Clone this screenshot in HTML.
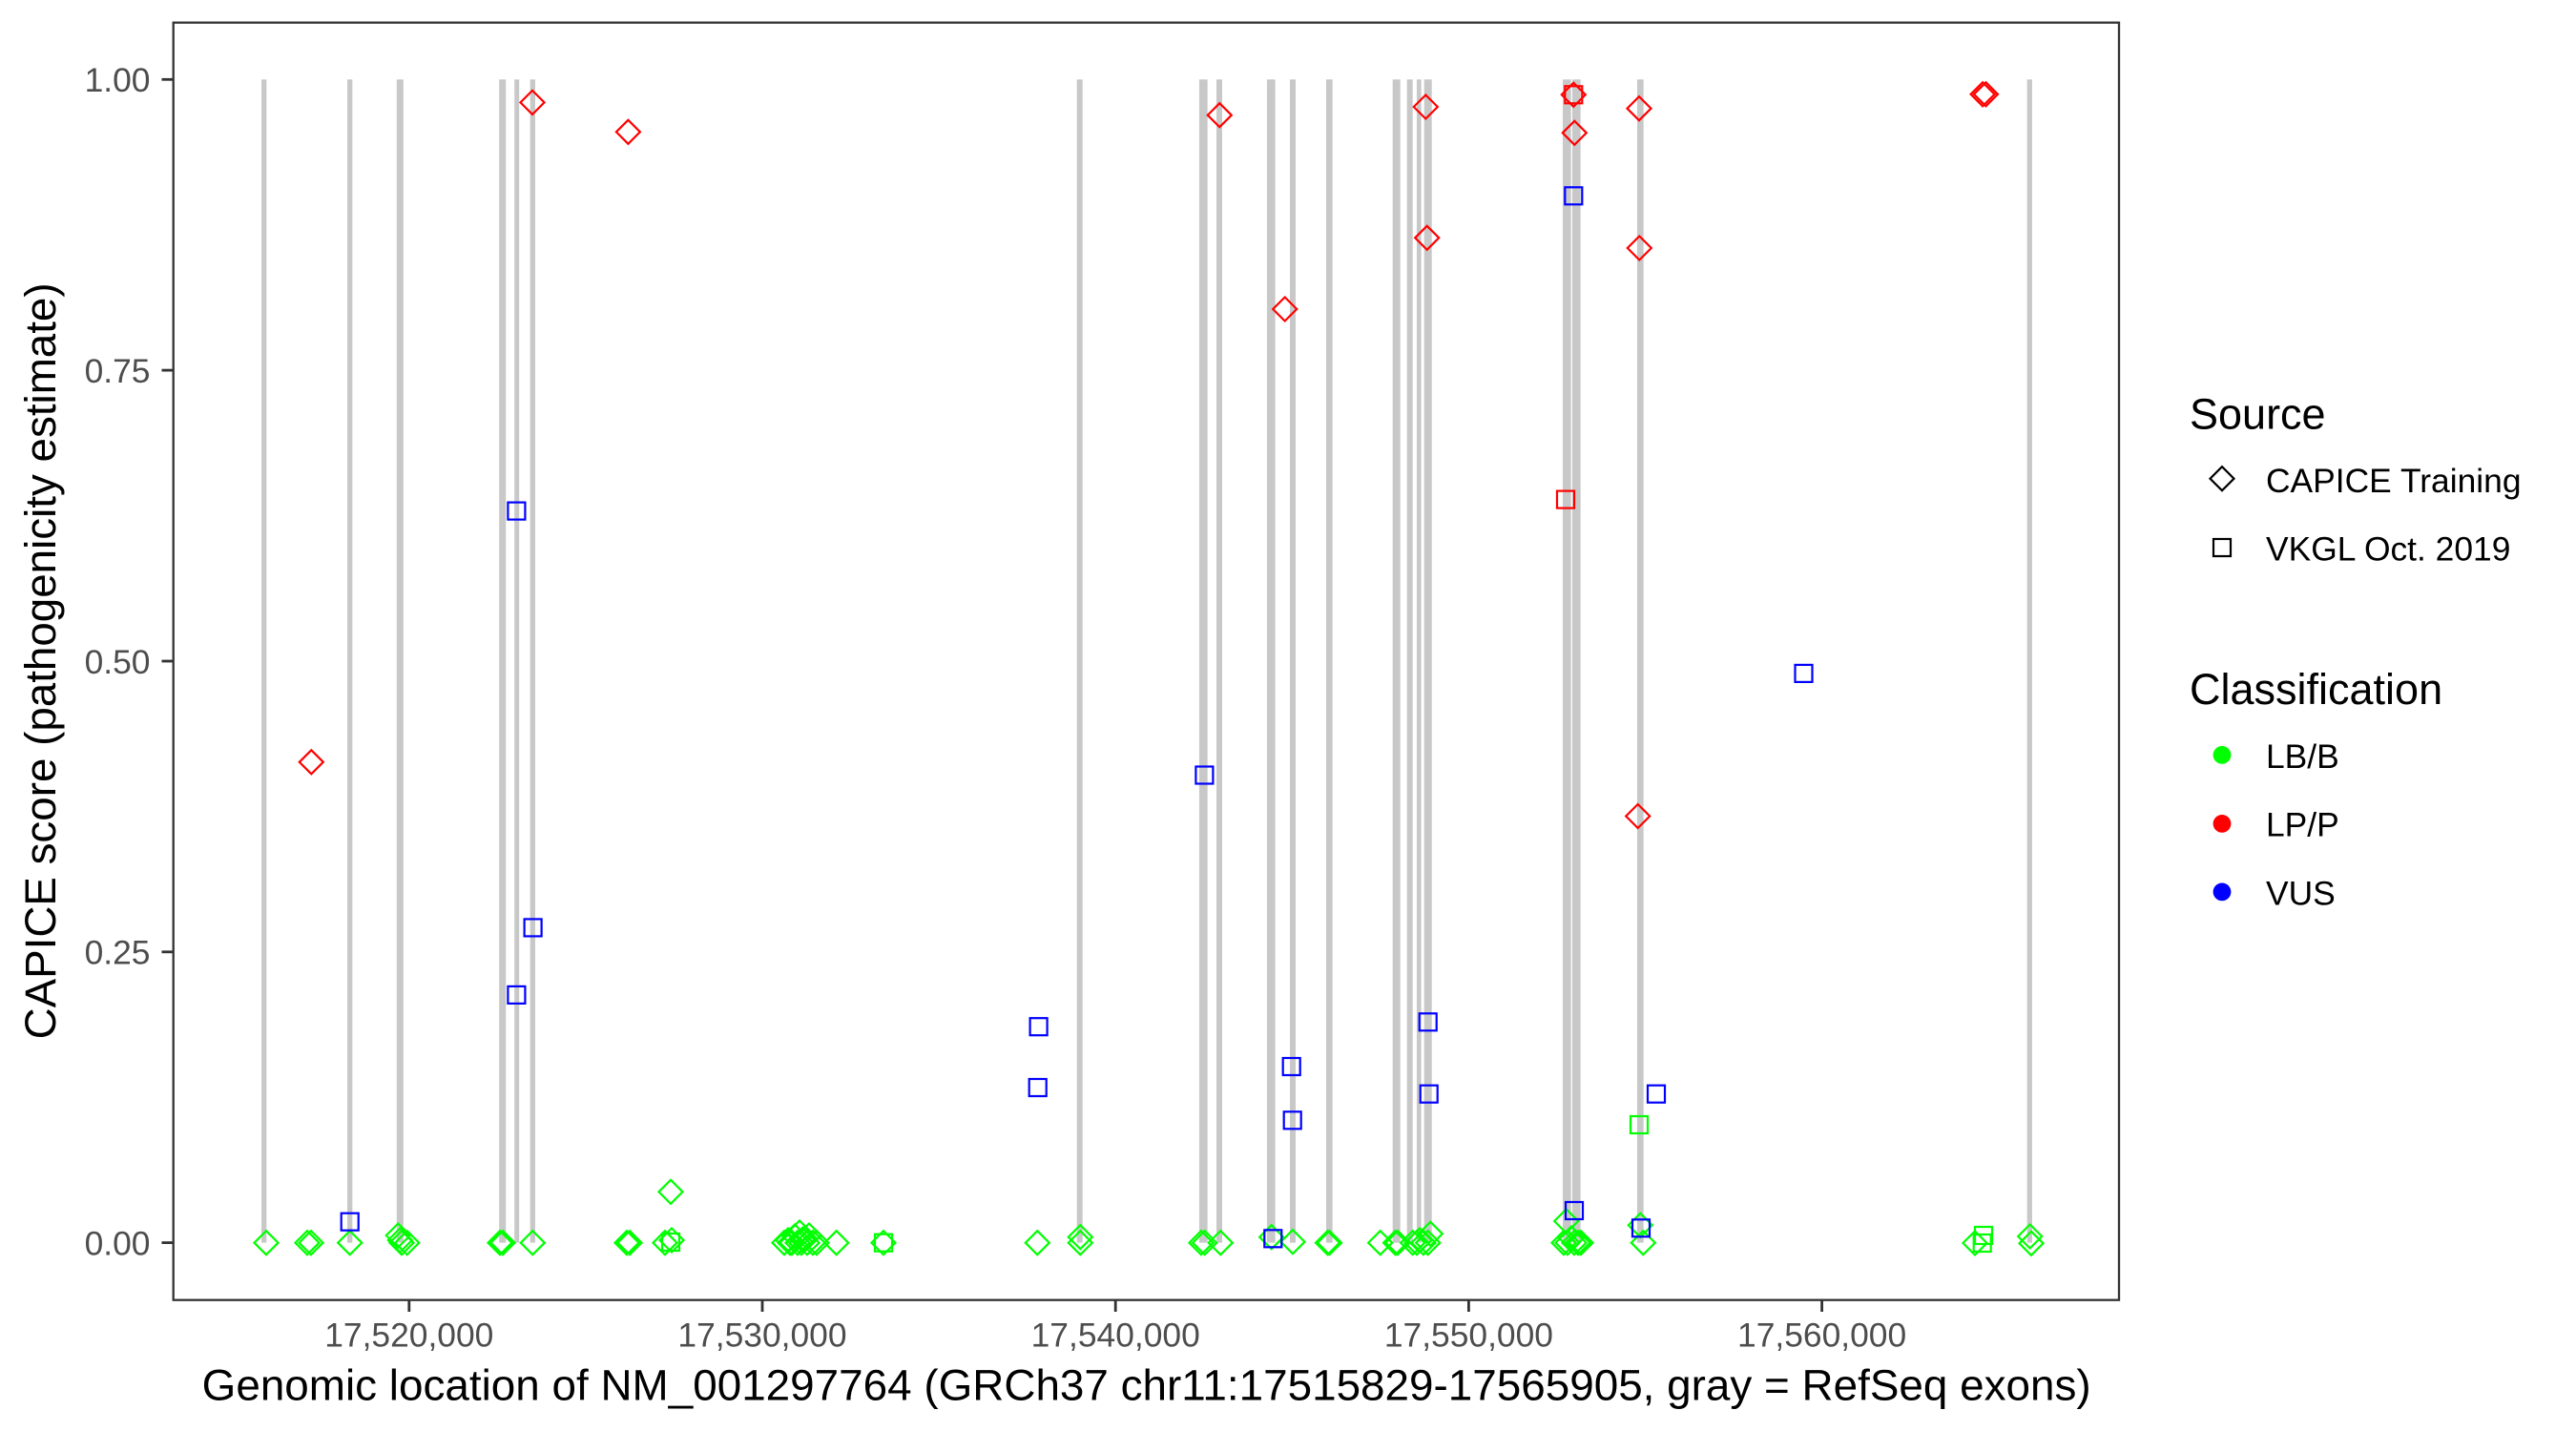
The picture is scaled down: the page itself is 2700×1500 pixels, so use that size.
<!DOCTYPE html>
<html><head><meta charset="utf-8"><style>
html,body{margin:0;padding:0;background:#fff;}
svg{display:block;}
text{font-family:"Liberation Sans",Arial,sans-serif;}
</style></head><body>
<svg width="2700" height="1500" viewBox="0 0 2700 1500" xmlns="http://www.w3.org/2000/svg">
<rect x="0" y="0" width="2700" height="1500" fill="#fff"/>
<g fill="#C8C8C8">
<rect x="274.05" y="83.3" width="5.3" height="1219.3"/>
<rect x="364.05" y="83.3" width="5.3" height="1219.3"/>
<rect x="415.8" y="83.3" width="7" height="1219.3"/>
<rect x="523.2" y="83.3" width="7" height="1219.3"/>
<rect x="539.2" y="83.3" width="5" height="1219.3"/>
<rect x="555.65" y="83.3" width="5.3" height="1219.3"/>
<rect x="1128.7" y="83.3" width="6" height="1219.3"/>
<rect x="1256.95" y="83.3" width="8.7" height="1219.3"/>
<rect x="1275" y="83.3" width="6" height="1219.3"/>
<rect x="1327.95" y="83.3" width="8.7" height="1219.3"/>
<rect x="1352" y="83.3" width="6" height="1219.3"/>
<rect x="1389.95" y="83.3" width="6.7" height="1219.3"/>
<rect x="1459.7" y="83.3" width="8" height="1219.3"/>
<rect x="1474.7" y="83.3" width="6" height="1219.3"/>
<rect x="1484.95" y="83.3" width="4.7" height="1219.3"/>
<rect x="1492.7" y="83.3" width="8" height="1219.3"/>
<rect x="1637.95" y="83.3" width="8.7" height="1219.3"/>
<rect x="1647.95" y="83.3" width="8.7" height="1219.3"/>
<rect x="1715.95" y="83.3" width="6.7" height="1219.3"/>
<rect x="2124.65" y="83.3" width="5.3" height="1219.3"/>
</g>
<path fill="none" stroke="#00FF00" stroke-width="2.2" d="M279,1290.2l12.5,12.5l-12.5,12.5l-12.5,-12.5z M322,1290.2l12.5,12.5l-12.5,12.5l-12.5,-12.5z M326,1290.2l12.5,12.5l-12.5,12.5l-12.5,-12.5z M366.7,1290.2l12.5,12.5l-12.5,12.5l-12.5,-12.5z M417.3,1282.5l12.5,12.5l-12.5,12.5l-12.5,-12.5z M419.3,1287.5l12.5,12.5l-12.5,12.5l-12.5,-12.5z M421,1290.2l12.5,12.5l-12.5,12.5l-12.5,-12.5z M426.7,1290.2l12.5,12.5l-12.5,12.5l-12.5,-12.5z M524,1290.2l12.5,12.5l-12.5,12.5l-12.5,-12.5z M527,1290.2l12.5,12.5l-12.5,12.5l-12.5,-12.5z M558.3,1290.2l12.5,12.5l-12.5,12.5l-12.5,-12.5z M657,1290.2l12.5,12.5l-12.5,12.5l-12.5,-12.5z M660,1290.2l12.5,12.5l-12.5,12.5l-12.5,-12.5z M697,1290.2l12.5,12.5l-12.5,12.5l-12.5,-12.5z M703,1236.8l12.5,12.5l-12.5,12.5l-12.5,-12.5z M704,1287.5l12.5,12.5l-12.5,12.5l-12.5,-12.5z M822,1290.2l12.5,12.5l-12.5,12.5l-12.5,-12.5z M826,1287.5l12.5,12.5l-12.5,12.5l-12.5,-12.5z M828,1290.2l12.5,12.5l-12.5,12.5l-12.5,-12.5z M830,1290.2l12.5,12.5l-12.5,12.5l-12.5,-12.5z M833,1283.5l12.5,12.5l-12.5,12.5l-12.5,-12.5z M836,1290.2l12.5,12.5l-12.5,12.5l-12.5,-12.5z M838,1279.5l12.5,12.5l-12.5,12.5l-12.5,-12.5z M840,1290.2l12.5,12.5l-12.5,12.5l-12.5,-12.5z M841,1287l12.5,12.5l-12.5,12.5l-12.5,-12.5z M843,1285.5l12.5,12.5l-12.5,12.5l-12.5,-12.5z M846,1290.2l12.5,12.5l-12.5,12.5l-12.5,-12.5z M848,1282.5l12.5,12.5l-12.5,12.5l-12.5,-12.5z M852,1290.2l12.5,12.5l-12.5,12.5l-12.5,-12.5z M856,1290.2l12.5,12.5l-12.5,12.5l-12.5,-12.5z M876.7,1290.2l12.5,12.5l-12.5,12.5l-12.5,-12.5z M926,1290.2l12.5,12.5l-12.5,12.5l-12.5,-12.5z M1087.3,1290.2l12.5,12.5l-12.5,12.5l-12.5,-12.5z M1132.3,1284.2l12.5,12.5l-12.5,12.5l-12.5,-12.5z M1132.3,1290.2l12.5,12.5l-12.5,12.5l-12.5,-12.5z M1259,1290.2l12.5,12.5l-12.5,12.5l-12.5,-12.5z M1262.7,1290.2l12.5,12.5l-12.5,12.5l-12.5,-12.5z M1279.3,1290.2l12.5,12.5l-12.5,12.5l-12.5,-12.5z M1332.7,1284.2l12.5,12.5l-12.5,12.5l-12.5,-12.5z M1355,1289.2l12.5,12.5l-12.5,12.5l-12.5,-12.5z M1391.5,1290.2l12.5,12.5l-12.5,12.5l-12.5,-12.5z M1393.5,1290.2l12.5,12.5l-12.5,12.5l-12.5,-12.5z M1446.7,1290.2l12.5,12.5l-12.5,12.5l-12.5,-12.5z M1462.5,1290.2l12.5,12.5l-12.5,12.5l-12.5,-12.5z M1465,1290.2l12.5,12.5l-12.5,12.5l-12.5,-12.5z M1480.7,1290.2l12.5,12.5l-12.5,12.5l-12.5,-12.5z M1485,1290.2l12.5,12.5l-12.5,12.5l-12.5,-12.5z M1488,1287.5l12.5,12.5l-12.5,12.5l-12.5,-12.5z M1492,1290.2l12.5,12.5l-12.5,12.5l-12.5,-12.5z M1496.7,1290.2l12.5,12.5l-12.5,12.5l-12.5,-12.5z M1499.3,1280.8l12.5,12.5l-12.5,12.5l-12.5,-12.5z M1641.7,1267.5l12.5,12.5l-12.5,12.5l-12.5,-12.5z M1639,1290.2l12.5,12.5l-12.5,12.5l-12.5,-12.5z M1643,1290.2l12.5,12.5l-12.5,12.5l-12.5,-12.5z M1647,1285.5l12.5,12.5l-12.5,12.5l-12.5,-12.5z M1650,1290.2l12.5,12.5l-12.5,12.5l-12.5,-12.5z M1654,1290.2l12.5,12.5l-12.5,12.5l-12.5,-12.5z M1657,1290.2l12.5,12.5l-12.5,12.5l-12.5,-12.5z M1719.3,1271.8l12.5,12.5l-12.5,12.5l-12.5,-12.5z M1722.3,1290.2l12.5,12.5l-12.5,12.5l-12.5,-12.5z M2070,1290.5l12.5,12.5l-12.5,12.5l-12.5,-12.5z M2127.7,1283.5l12.5,12.5l-12.5,12.5l-12.5,-12.5z M2129,1290.8l12.5,12.5l-12.5,12.5l-12.5,-12.5z"/>
<g fill="none" stroke="#00FF00" stroke-width="2.2">
<rect x="694" y="1293" width="18" height="18"/>
<rect x="917" y="1293.7" width="18" height="18"/>
<rect x="1709" y="1170" width="18" height="18"/>
<rect x="2070" y="1286" width="18" height="18"/>
<rect x="2068.7" y="1294" width="18" height="18"/>
</g>
<g fill="none" stroke="#0000FF" stroke-width="2.2">
<rect x="357.7" y="1271.7" width="18" height="18"/>
<rect x="532.4" y="526.6" width="18" height="18"/>
<rect x="532.4" y="1033.9" width="18" height="18"/>
<rect x="549.6" y="963.4" width="18" height="18"/>
<rect x="1079.6" y="1067.2" width="18" height="18"/>
<rect x="1078.7" y="1131" width="18" height="18"/>
<rect x="1253.4" y="803.5" width="18" height="18"/>
<rect x="1325.3" y="1289.3" width="18" height="18"/>
<rect x="1344.7" y="1109" width="18" height="18"/>
<rect x="1345.7" y="1165.3" width="18" height="18"/>
<rect x="1487.7" y="1062.3" width="18" height="18"/>
<rect x="1488.7" y="1137.7" width="18" height="18"/>
<rect x="1640.3" y="196.3" width="18" height="18"/>
<rect x="1641" y="1260" width="18" height="18"/>
<rect x="1711" y="1278.3" width="18" height="18"/>
<rect x="1727" y="1137.7" width="18" height="18"/>
<rect x="1881.5" y="696.9" width="18" height="18"/>
</g>
<path fill="none" stroke="#FF0000" stroke-width="2.2" d="M326.3,786.3l12.5,12.5l-12.5,12.5l-12.5,-12.5z M558,94.9l12.5,12.5l-12.5,12.5l-12.5,-12.5z M658.4,125.8l12.5,12.5l-12.5,12.5l-12.5,-12.5z M1278.3,108.2l12.5,12.5l-12.5,12.5l-12.5,-12.5z M1346.7,311.5l12.5,12.5l-12.5,12.5l-12.5,-12.5z M1494.3,99.5l12.5,12.5l-12.5,12.5l-12.5,-12.5z M1495.7,236.8l12.5,12.5l-12.5,12.5l-12.5,-12.5z M1649.3,86.8l12.5,12.5l-12.5,12.5l-12.5,-12.5z M1650.3,126.8l12.5,12.5l-12.5,12.5l-12.5,-12.5z M1718,101.2l12.5,12.5l-12.5,12.5l-12.5,-12.5z M1718.3,247.5l12.5,12.5l-12.5,12.5l-12.5,-12.5z M1716.7,843l12.5,12.5l-12.5,12.5l-12.5,-12.5z M2078.1,86.3l12.5,12.5l-12.5,12.5l-12.5,-12.5z M2081.5,86.3l12.5,12.5l-12.5,12.5l-12.5,-12.5z"/>
<g fill="none" stroke="#FF0000" stroke-width="2.2">
<rect x="1632" y="514.6" width="18" height="18"/>
<rect x="1640.3" y="90.3" width="18" height="18"/>
</g>
<rect x="181.7" y="23.7" width="2039.3" height="1339" fill="none" stroke="#333333" stroke-width="2.3"/>
<g stroke="#333333" stroke-width="2.8">
<line x1="169.5" y1="1302.6" x2="181.7" y2="1302.6"/>
<line x1="169.5" y1="997.8" x2="181.7" y2="997.8"/>
<line x1="169.5" y1="693" x2="181.7" y2="693"/>
<line x1="169.5" y1="388.1" x2="181.7" y2="388.1"/>
<line x1="169.5" y1="83.3" x2="181.7" y2="83.3"/>
<line x1="428.8" y1="1362.7" x2="428.8" y2="1375"/>
<line x1="799" y1="1362.7" x2="799" y2="1375"/>
<line x1="1169.2" y1="1362.7" x2="1169.2" y2="1375"/>
<line x1="1539.4" y1="1362.7" x2="1539.4" y2="1375"/>
<line x1="1909.6" y1="1362.7" x2="1909.6" y2="1375"/>
</g>
<g fill="#4D4D4D" font-size="35.4" text-anchor="end">
<text x="157.5" y="1315.4">0.00</text>
<text x="157.5" y="1010.6">0.25</text>
<text x="157.5" y="705.8">0.50</text>
<text x="157.5" y="400.9">0.75</text>
<text x="157.5" y="96.1">1.00</text>
</g>
<g fill="#4D4D4D" font-size="35.4" text-anchor="middle">
<text x="428.8" y="1411.7">17,520,000</text>
<text x="799" y="1411.7">17,530,000</text>
<text x="1169.2" y="1411.7">17,540,000</text>
<text x="1539.4" y="1411.7">17,550,000</text>
<text x="1909.6" y="1411.7">17,560,000</text>
</g>
<text x="211.7" y="1467.3" font-size="45.8" fill="#000" textLength="1980" lengthAdjust="spacingAndGlyphs">Genomic location of NM_001297764 (GRCh37 chr11:17515829-17565905, gray = RefSeq exons)</text>
<text transform="translate(58,1089.4) rotate(-90)" x="0" y="0" font-size="45.8" fill="#000" textLength="793" lengthAdjust="spacingAndGlyphs">CAPICE score (pathogenicity estimate)</text>
<text x="2295" y="449.3" font-size="45" fill="#000">Source</text>
<path fill="none" stroke="#000" stroke-width="2.2" d="M2329,489.2l12.5,12.5l-12.5,12.5l-12.5,-12.5z"/>
<rect x="2320" y="565" width="18" height="18" fill="none" stroke="#000" stroke-width="2.2"/>
<text x="2375" y="516" font-size="35.4" fill="#000">CAPICE Training</text>
<text x="2375" y="587.7" font-size="35.4" fill="#000">VKGL Oct. 2019</text>
<text x="2295" y="737.8" font-size="45" fill="#000">Classification</text>
<circle cx="2329" cy="791.4" r="9.4" fill="#00FF00"/>
<circle cx="2329" cy="863.4" r="9.4" fill="#FF0000"/>
<circle cx="2329" cy="934.9" r="9.4" fill="#0000FF"/>
<text x="2375" y="804.8" font-size="35.4" fill="#000">LB/B</text>
<text x="2375" y="876.7" font-size="35.4" fill="#000">LP/P</text>
<text x="2375" y="948.3" font-size="35.4" fill="#000">VUS</text>
</svg>
</body></html>
